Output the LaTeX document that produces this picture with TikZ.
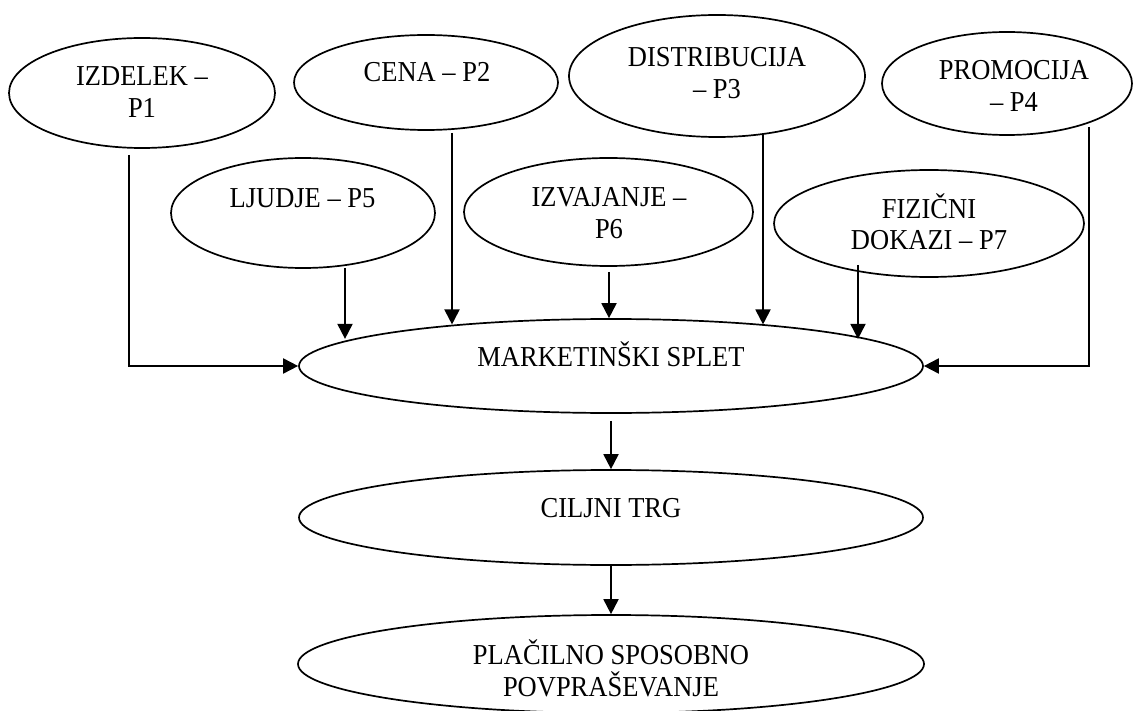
\documentclass[tikz,border=0pt]{standalone}
\usepackage{fontspec}
\usepackage{graphicx}
\setmainfont{Liberation Serif}
\usetikzlibrary{arrows.meta,shapes.geometric}
\newcommand{\tallt}[1]{\scalebox{1}[1.09]{#1}}
\begin{document}
\begin{tikzpicture}[x=1pt,y=-1pt,
  ell/.style={draw, ellipse, line width=1.7pt, inner sep=0pt},
  txt/.style={font=\fontsize{26.5}{31.5}\selectfont, inner sep=0pt, anchor=base},
  arr/.style={line width=1.9pt, -{Triangle[length=15pt,width=15pt]}}]
\useasboundingbox (0,0) rectangle (1135,711);
\fill[white] (0,0) rectangle (1135,711);
% ellipses
\node[ell, minimum width=266pt, minimum height=110pt] (p1) at (142,93) {};
\node[ell, minimum width=264pt, minimum height=95pt] (p2) at (426,82.5) {};
\node[ell, minimum width=296pt, minimum height=122pt] (p3) at (717,76) {};
\node[ell, minimum width=250pt, minimum height=103pt] (p4) at (1007,83.5) {};
\node[ell, minimum width=264pt, minimum height=110pt] (p5) at (303,213) {};
\node[ell, minimum width=289pt, minimum height=108pt] (p6) at (608.5,212) {};
\node[ell, minimum width=310pt, minimum height=107pt] (p7) at (929,223.5) {};
\node[ell, minimum width=624pt, minimum height=94pt] (ms) at (611,366) {};
\node[ell, minimum width=624pt, minimum height=95pt] (ct) at (611,517.5) {};
\node[ell, minimum width=626pt, minimum height=98pt] (pl) at (611,664) {};
% texts
\node[txt] (p1a) at (142,86) {\tallt{IZDELEK –}};
\node[txt] (p1b) at (142,118) {\tallt{P1}};
\node[txt] (p2a) at (427,82) {\tallt{CENA – P2}};
\node[txt] (p3a) at (717,67) {\tallt{DISTRIBUCIJA}};
\node[txt] (p3b) at (717,99) {\tallt{– P3}};
\node[txt] (p4a) at (1014,80) {\tallt{PROMOCIJA}};
\node[txt] (p4b) at (1014,112) {\tallt{– P4}};
\node[txt] (p5a) at (302.5,208) {\tallt{LJUDJE – P5}};
\node[txt] (p6a) at (609,207) {\tallt{IZVAJANJE –}};
\node[txt] (p6b) at (609,239) {\tallt{P6}};
\node[txt] (p7a) at (929,219) {\tallt{FIZIČNI}};
\node[txt] (p7b) at (929,250) {\tallt{DOKAZI – P7}};
\node[txt] (msa) at (611,366) {\tallt{MARKETINŠKI SPLET}};
\node[txt] (cta) at (611,517) {\tallt{CILJNI TRG}};
\node[txt] (pla) at (611,664) {\tallt{PLAČILNO SPOSOBNO}};
\node[txt] (plb) at (611,696) {\tallt{POVPRAŠEVANJE}};
% connector starts
\coordinate (s1) at (129,155);
\coordinate (s2) at (452,133);
\coordinate (s3) at (763,134);
\coordinate (s4) at (1089,127);
\coordinate (s5) at (345,268);
\coordinate (s6) at (609,272);
\coordinate (s7) at (858,265);
% connectors
\draw[arr] (s1) |- (ms.west);
\draw[arr] (s4) |- (ms.east);
\draw[arr] (s2) -- (s2 |- ms.165.7);
\draw[arr] (s3) -- (s3 |- ms.15.1);
\draw[arr] (s5) -- (s5 |- ms.174.7);
\draw[arr] (s6) -- (s6 |- ms.north);
\draw[arr] (s7) -- (s7 |- ms.6.6);
\draw[arr] ([yshift=-7pt]ms.south) -- (ct.north);
\draw[arr] (ct.south) -- (pl.north);
\end{tikzpicture}
\end{document}
